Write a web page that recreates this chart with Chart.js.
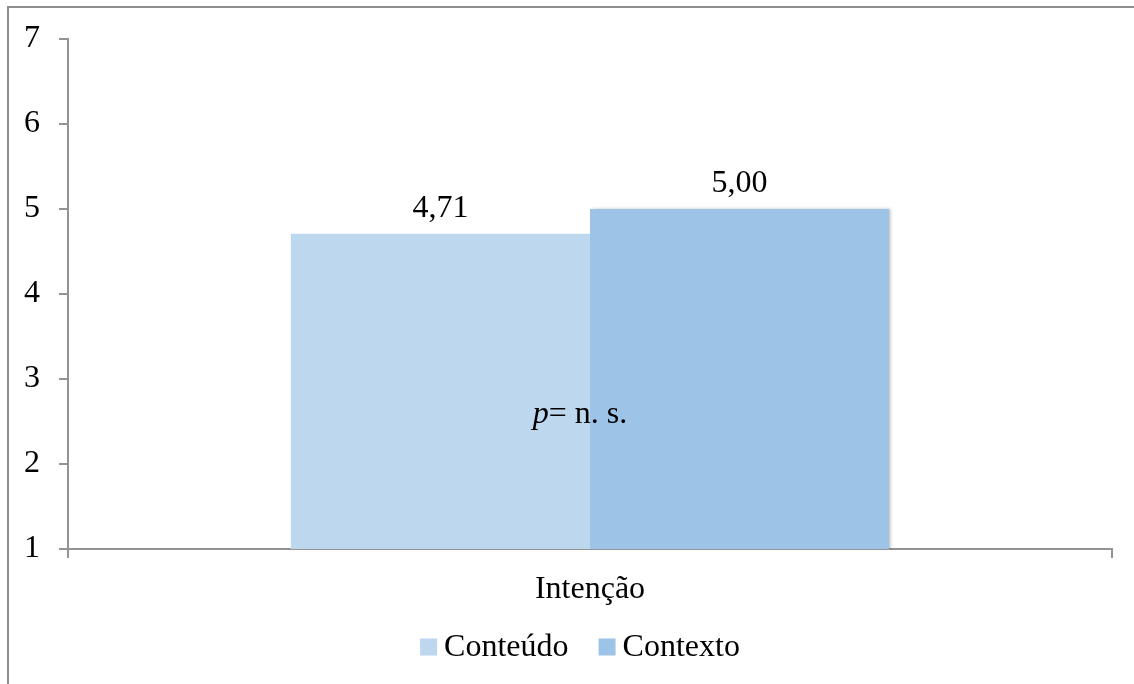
<!DOCTYPE html>
<html>
<head>
<meta charset="utf-8">
<script src="https://cdn.jsdelivr.net/npm/chart.js@4/dist/chart.umd.min.js"></script>
<style>
  html, body { margin: 0; padding: 0; background: #fff; }
  #wrap { width: 1134px; height: 684px; position: relative; }
</style>
</head>
<body>
<div id="wrap"><canvas id="c" width="1134" height="684"></canvas></div>
<script>
// Categories, series and axis ticks
const categories = ['Intenção'];
const seriesNames = ['Conteúdo', 'Contexto'];
const conteudo = [4.71];
const contexto = [5.00];
const seriesColors = ['#BDD7EE', '#9DC3E6'];
const yTicks = [1, 2, 3, 4, 5, 6, 7];
const note = { italic: 'p', rest: '= n. s.', value: 2.58 };

const FONT = '"Liberation Serif", "Times New Roman", serif';
const FS = 32;
const AXIS = '#939393';

// Outer frame of the chart box (only left and top edges fall inside the canvas)
const framePlugin = {
  id: 'frame',
  beforeDraw(chart) {
    const ctx = chart.ctx;
    ctx.save();
    ctx.strokeStyle = '#8e8e8e';
    ctx.lineWidth = 2;
    ctx.beginPath();
    ctx.moveTo(8, chart.height + 2);
    ctx.lineTo(8, 7);
    ctx.lineTo(chart.width + 2, 7);
    ctx.stroke();
    ctx.restore();
  }
};

// Soft shadow along the right edge of the front bar
const shadowPlugin = {
  id: 'barShadow',
  beforeDatasetDraw(chart, args) {
    const ctx = chart.ctx;
    ctx.save();
    if (args.index === 1) {
      ctx.shadowColor = 'rgba(0,0,0,0.25)';
      ctx.shadowBlur = 3;
      ctx.shadowOffsetX = 2;
      ctx.shadowOffsetY = 0;
    }
  },
  afterDatasetDraw(chart) {
    chart.ctx.restore();
  }
};

// Value labels above bars, the significance note and the legend row
const labelPlugin = {
  id: 'valueLabels',
  afterDatasetsDraw(chart) {
    const ctx = chart.ctx;
    ctx.save();
    ctx.fillStyle = '#000';
    ctx.font = FS + 'px ' + FONT;
    ctx.textAlign = 'center';
    ctx.textBaseline = 'bottom';
    chart.data.datasets.forEach((ds, i) => {
      chart.getDatasetMeta(i).data.forEach((bar, j) => {
        const v = ds.data[j];
        ctx.fillText(v.toFixed(2).replace('.', ','), bar.x, bar.y - 9);
      });
    });

    const xs = chart.scales.x, ys = chart.scales.y;
    const cx = xs.getPixelForValue(0) - 10;

    // p = n. s.
    const cy = ys.getPixelForValue(note.value);
    ctx.font = 'italic ' + FS + 'px ' + FONT;
    const w1 = ctx.measureText(note.italic).width;
    ctx.font = FS + 'px ' + FONT;
    const w2 = ctx.measureText(note.rest).width;
    const x0 = cx - (w1 + w2) / 2;
    ctx.textAlign = 'left';
    ctx.textBaseline = 'middle';
    ctx.font = 'italic ' + FS + 'px ' + FONT;
    ctx.fillText(note.italic, x0, cy);
    ctx.font = FS + 'px ' + FONT;
    ctx.fillText(note.rest, x0 + w1, cy);

    // legend
    const box = 17, gap = 7, itemGap = 30;
    const ly = 647;
    ctx.font = FS + 'px ' + FONT;
    const items = chart.data.datasets.map(ds => ({
      label: ds.label, color: ds.backgroundColor, w: ctx.measureText(ds.label).width
    }));
    let total = 0;
    items.forEach((it, k) => { total += box + gap + it.w + (k ? itemGap : 0); });
    let lx = cx - total / 2;
    items.forEach((it, k) => {
      if (k) lx += itemGap;
      ctx.fillStyle = it.color;
      ctx.fillRect(lx, ly - box / 2, box, box);
      lx += box + gap;
      ctx.fillStyle = '#000';
      ctx.fillText(it.label, lx, ly + 1);
      lx += it.w;
    });
    ctx.restore();
  }
};

new Chart(document.getElementById('c'), {
  type: 'bar',
  data: {
    labels: categories,
    datasets: [
      { label: seriesNames[0], data: conteudo, backgroundColor: seriesColors[0], borderWidth: 0 },
      { label: seriesNames[1], data: contexto, backgroundColor: seriesColors[1], borderWidth: 0 }
    ]
  },
  options: {
    responsive: false,
    animation: false,
    devicePixelRatio: 1,
    layout: { padding: { left: 0, right: 22, top: 39, bottom: 0 } },
    datasets: { bar: { categoryPercentage: 0.573, barPercentage: 1 } },
    plugins: {
      legend: { display: false },
      tooltip: { enabled: false }
    },
    scales: {
      x: {
        offset: true,
        grid: { display: true, drawOnChartArea: false, offset: true, tickLength: 9, color: AXIS, lineWidth: 2 },
        border: { display: true, color: AXIS, width: 2 },
        ticks: { font: { family: FONT, size: FS }, color: '#000', padding: 12 },
        afterFit(scale) { scale.height = 135; }
      },
      y: {
        min: 1,
        max: 7,
        afterBuildTicks(scale) { scale.ticks = yTicks.map(v => ({ value: v })); },
        grid: { display: true, drawOnChartArea: false, tickLength: 9, color: AXIS, lineWidth: 2 },
        border: { display: true, color: AXIS, width: 2 },
        ticks: { font: { family: FONT, size: FS }, color: '#000', padding: 19 },
        afterFit(scale) { scale.width = 68; }
      }
    }
  },
  plugins: [framePlugin, shadowPlugin, labelPlugin]
});
</script>
</body>
</html>
